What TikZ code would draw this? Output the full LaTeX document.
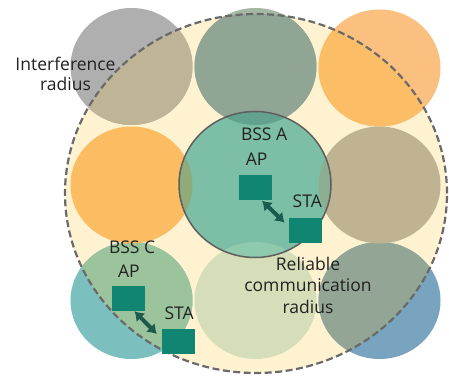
\documentclass[tikz,border=0pt]{standalone}
\usepackage{fontspec}
\setmainfont{Open Sans}
\usetikzlibrary{arrows.meta,calc}
\definecolor{cream}{HTML}{FEF2D0}
\definecolor{grayout}{HTML}{AFAFAF}
\definecolor{grayin}{HTML}{BFB596}
\definecolor{tmidout}{HTML}{A6B7A6}
\definecolor{tmid}{HTML}{90A593}
\definecolor{trout}{HTML}{FBBF80}
\definecolor{trin}{HTML}{FBBE67}
\definecolor{lor}{HTML}{FBBC62}
\definecolor{tealc}{HTML}{7DBFA6}
\definecolor{tanc}{HTML}{BFB392}
\definecolor{blout}{HTML}{7BBFBE}
\definecolor{blin}{HTML}{9CC49C}
\definecolor{bmid}{HTML}{D5DEB8}
\definecolor{brout}{HTML}{78A4C0}
\definecolor{brin}{HTML}{93A695}
\definecolor{ovtop}{HTML}{62A28F}
\definecolor{ovleft}{HTML}{8EAB79}
\definecolor{ovright}{HTML}{8CAF93}
\definecolor{ovbot}{HTML}{8FC9AE}
\definecolor{boxc}{HTML}{0F8572}
\definecolor{arrc}{HTML}{1C5A4C}
\definecolor{dashc}{HTML}{6A6A6A}
\definecolor{bordc}{HTML}{5E5E5E}
\definecolor{txtc}{HTML}{222222}
\begin{document}
\begin{tikzpicture}[x=1pt,y=-1pt,
  devbox/.style={fill=boxc,draw=none,minimum width=33pt,minimum height=25pt,inner sep=0pt},
  lbl/.style={text=txtc,inner sep=0pt,font=\fontsize{17.5}{21}\selectfont},
  link/.style={draw=arrc,line width=4pt,{Latex[length=9pt,width=12.5pt]}-{Latex[length=9pt,width=12.5pt]}},
  small/.style={x radius=61pt,y radius=58.5pt}]
\useasboundingbox (0,0) rectangle (449,382);
\fill[white] (0,0) rectangle (449,382);
% interference area
\def\bigE{(256,193.5) ellipse [x radius=191pt,y radius=179.5pt]}
\fill[cream] \bigE;
% circles that cross the boundary: outside colours
\fill[grayout] (131.5,66.5) ellipse [small];
\fill[tmidout] (255.5,66.5) ellipse [small];
\fill[trout] (379.5,68) ellipse [small];
\fill[blout] (131.5,300.5) ellipse [small];
\fill[brout] (379.5,300.5) ellipse [small];
% inside colours
\begin{scope}
  \clip \bigE;
  \fill[grayin] (131.5,66.5) ellipse [small];
  \fill[tmid] (255.5,66.5) ellipse [small];
  \fill[trin] (379.5,68) ellipse [small];
  \fill[blin] (131.5,300.5) ellipse [small];
  \fill[brin] (379.5,300.5) ellipse [small];
\end{scope}
\fill[lor] (131.5,185) ellipse [small];
\fill[tanc] (379.5,185) ellipse [small];
\fill[bmid] (255.5,300.5) ellipse [small];
% reliable communication area
\def\cenE{(255,184.5) ellipse [x radius=76pt,y radius=73pt]}
\fill[tealc] \cenE;
\begin{scope}
  \clip \cenE;
  \fill[ovtop] (255.5,66.5) ellipse [small];
  \fill[ovleft] (131.5,185) ellipse [small];
  \fill[ovright] (379.5,185) ellipse [small];
  \fill[ovbot] (255.5,300.5) ellipse [small];
\end{scope}
\draw[bordc,line width=1.5pt] \cenE;
\draw[dashc,line width=2.2pt,dash pattern=on 7pt off 3.5pt] \bigE;
% devices
\node[devbox] (apA) at (255.8,187.5) {};
\node[devbox] (staA) at (305.8,230.8) {};
\node[devbox] (apC) at (128.3,298.5) {};
\node[devbox] (staC) at (178,341.7) {};
\coordinate (aA1) at ($(apA.south east)+(-10.5,0.5)$);
\coordinate (aA2) at ($(staA.north west)+(-4.5,4.5)$);
\coordinate (aC1) at ($(apC.south east)+(-10.5,0)$);
\coordinate (aC2) at ($(staC.north west)+(-4.5,5)$);
\draw[link] (aA1) -- (aA2);
\draw[link] (aC1) -- (aC2);
% labels
\node[lbl,anchor=base] (intf1) at (65.5,70.5) {Interference};
\node[lbl,anchor=base] (intf2) at (65.5,91) {radius};
\node[lbl,anchor=base west] (bssA) at (240.8,141) {BSS A};
\node[lbl,anchor=base west] (apAt) at (245.6,165.7) {AP};
\node[lbl,anchor=base west] (staAt) at (292.5,207.3) {STA};
\node[lbl,anchor=base west] (bssC) at (108.8,253) {BSS C};
\node[lbl,anchor=base west] (apCt) at (117.8,277) {AP};
\node[lbl,anchor=base west] (staCt) at (164.3,319.3) {STA};
\node[lbl,anchor=base] (rel1) at (308,270) {Reliable};
\node[lbl,anchor=base] (rel2) at (308,291.7) {communication};
\node[lbl,anchor=base] (rel3) at (308,313.3) {radius};
\end{tikzpicture}
\end{document}
